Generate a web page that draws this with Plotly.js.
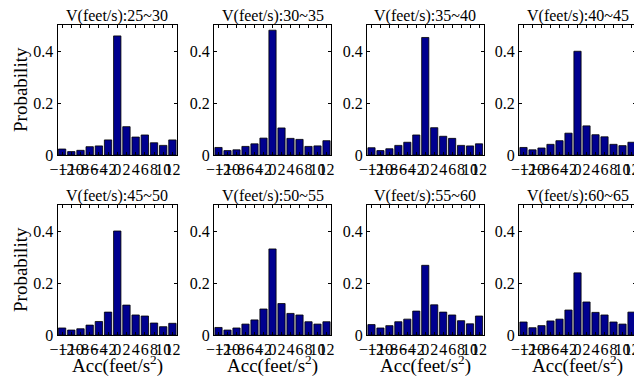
<!DOCTYPE html>
<html>
<head>
<meta charset="utf-8">
<script src="https://cdn.plot.ly/plotly-3.0.1.min.js"></script>
<style>
html,body{margin:0;padding:0;overflow:hidden;background:#fff;}
#chart{width:640px;height:378px;}
</style>
</head>
<body>
<div id="chart"></div>
<script>
// ---- data ----
const accBins = [-12, -10, -8, -6, -4, -2, 0, 2, 4, 6, 8, 10, 12];
const accTickText = ["−12", "−10", "−8", "−6", "−4", "−2", "0", "2", "4", "6", "8", "10", "12"];
const probTickVals = [0, 0.2, 0.4];
const probTickText = ["0", "0.2", "0.4"];
const panelTitles = ["V(feet/s):25~30", "V(feet/s):30~35", "V(feet/s):35~40", "V(feet/s):40~45",
                     "V(feet/s):45~50", "V(feet/s):50~55", "V(feet/s):55~60", "V(feet/s):60~65"];
const v25_30 = [0.023, 0.013, 0.018, 0.032, 0.035, 0.058, 0.458, 0.109, 0.069, 0.077, 0.047, 0.037, 0.058];
const v30_35 = [0.029, 0.017, 0.020, 0.033, 0.043, 0.065, 0.480, 0.104, 0.064, 0.060, 0.033, 0.035, 0.055];
const v35_40 = [0.028, 0.017, 0.024, 0.037, 0.049, 0.077, 0.452, 0.105, 0.072, 0.064, 0.037, 0.035, 0.043];
const v40_45 = [0.029, 0.020, 0.027, 0.041, 0.055, 0.084, 0.399, 0.112, 0.078, 0.070, 0.041, 0.036, 0.049];
const v45_50 = [0.027, 0.019, 0.024, 0.038, 0.052, 0.088, 0.400, 0.115, 0.077, 0.073, 0.046, 0.032, 0.045];
const v50_55 = [0.029, 0.019, 0.027, 0.042, 0.058, 0.100, 0.331, 0.121, 0.083, 0.077, 0.051, 0.042, 0.051];
const v55_60 = [0.040, 0.027, 0.036, 0.051, 0.061, 0.092, 0.268, 0.116, 0.088, 0.077, 0.055, 0.043, 0.073];
const v60_65 = [0.050, 0.028, 0.036, 0.054, 0.061, 0.096, 0.239, 0.127, 0.087, 0.077, 0.050, 0.042, 0.088];
const seriesList = [v25_30, v30_35, v35_40, v40_45, v45_50, v50_55, v55_60, v60_65];
const yLabel = "Probability";
const xLabel = "Acc(feet/s<sup>2</sup>)";

// ---- layout geometry (pixels) ----
const W = 640, H = 378;
const colLeft = [57.5, 214, 367, 519];
const colWidth = [119.5, 117, 116.5, 117];
const rowTop = [25, 205];
const rowBottom = [155, 335];
const FONT = "Liberation Serif";

const traces = [];
const layout = {
  width: W, height: H,
  margin: {l: 0, r: 0, t: 0, b: 0},
  paper_bgcolor: "#fff", plot_bgcolor: "#fff",
  showlegend: false,
  font: {family: FONT, size: 16, color: "#000"},
  annotations: []
};

seriesList.forEach((vals, i) => {
  const r = Math.floor(i / 4), c = i % 4;
  const n = i + 1;
  const xa = n === 1 ? "x" : "x" + n;
  const ya = n === 1 ? "y" : "y" + n;
  traces.push({
    type: "bar", x: accBins, y: vals, xaxis: xa, yaxis: ya,
    width: 1.6,
    marker: {color: "#00008f", line: {color: "#000", width: 0.8}},
    hoverinfo: "x+y"
  });
  const xd = [colLeft[c] / W, Math.min(1, (colLeft[c] + colWidth[c]) / W)];
  const yd = [1 - rowBottom[r] / H, 1 - rowTop[r] / H];
  const xKey = n === 1 ? "xaxis" : "xaxis" + n;
  const yKey = n === 1 ? "yaxis" : "yaxis" + n;
  layout[xKey] = {
    domain: xd, anchor: ya, range: [-13, 13],
    tickmode: "array", tickvals: accBins, ticktext: accTickText, tickangle: 0,
    ticks: "inside", ticklen: 3, tickcolor: "#000",
    showline: true, linecolor: "#000", linewidth: 1, mirror: "ticks",
    showgrid: false, zeroline: false, fixedrange: true,
    tickfont: {family: FONT, size: 16, color: "#000"}
  };
  layout[yKey] = {
    domain: yd, anchor: xa, range: [0, 0.5],
    tickmode: "array", tickvals: probTickVals, ticktext: probTickText,
    ticks: "inside", ticklen: 3, tickcolor: "#000",
    showline: true, linecolor: "#000", linewidth: 1, mirror: "ticks",
    showgrid: false, zeroline: false, fixedrange: true,
    tickfont: {family: FONT, size: 16, color: "#000"}
  };
  layout.annotations.push({
    xref: "paper", yref: "paper",
    x: (colLeft[c] + colWidth[c] / 2) / W, y: 1 - rowTop[r] / H,
    xanchor: "center", yanchor: "bottom", showarrow: false, yshift: -2,
    text: panelTitles[i], font: {family: FONT, size: 16, color: "#000"}
  });
  if (c === 0) {
    layout.annotations.push({
      xref: "paper", yref: "paper",
      x: 20 / W, y: 1 - (rowTop[r] + rowBottom[r]) / 2 / H,
      xanchor: "center", yanchor: "middle", showarrow: false, textangle: -90,
      text: yLabel, font: {family: FONT, size: 19, color: "#000"}
    });
  }
  if (r === 1) {
    layout.annotations.push({
      xref: "paper", yref: "paper",
      x: (colLeft[c] + colWidth[c] / 2) / W, y: 1 - 364 / H,
      xanchor: "center", yanchor: "middle", showarrow: false,
      text: xLabel, font: {family: FONT, size: 19, color: "#000"}
    });
  }
});

Plotly.newPlot("chart", traces, layout, {displayModeBar: false, staticPlot: true});
</script>
</body>
</html>
